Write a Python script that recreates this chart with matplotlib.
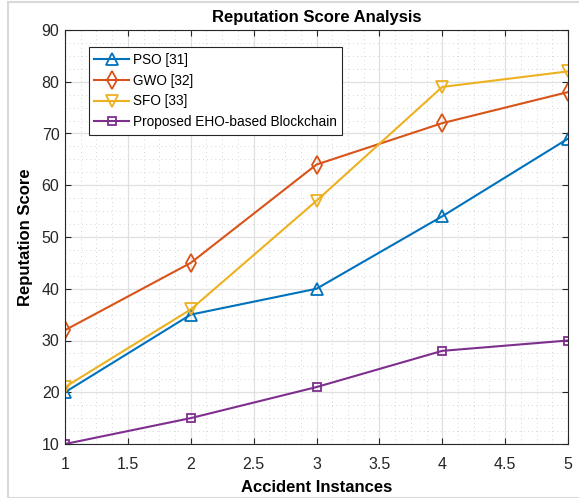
import matplotlib.pyplot as plt
from matplotlib.ticker import MultipleLocator
from matplotlib.patches import Rectangle

plt.rcParams['font.family'] = ['Liberation Sans', 'DejaVu Sans']

x = [1, 2, 3, 4, 5]
pso = [20, 35, 40, 54, 69]
gwo = [32, 45, 64, 72, 78]
sfo = [21, 36, 57, 79, 82]
eho = [10, 15, 21, 28, 30]
labels = ['PSO [31]', 'GWO [32]', 'SFO [33]', 'Proposed EHO-based Blockchain']

fig = plt.figure(figsize=(5.79, 4.98), dpi=100)
ax = fig.add_axes([65/579, 54/498, 503/579, 414/498])

ax.plot(x, pso, '-^', color='#0072BD', lw=1.5, ms=8, mfc='none', mew=1.3, label=labels[0])
ax.plot(x, gwo, '-d', color='#D95319', lw=1.5, ms=9, mfc='none', mew=1.3, label=labels[1])
ax.plot(x, sfo, '-v', color='#EDB120', lw=1.5, ms=8, mfc='none', mew=1.3, label=labels[2])
ax.plot(x, eho, '-s', color='#7E2F8E', lw=1.5, ms=6, mfc='none', mew=1.3, label=labels[3])

ax.set_xlim(1, 5)
ax.set_ylim(10, 90)
ax.xaxis.set_major_locator(MultipleLocator(0.5))
ax.xaxis.set_minor_locator(MultipleLocator(0.125))
ax.yaxis.set_major_locator(MultipleLocator(10))
ax.yaxis.set_minor_locator(MultipleLocator(2.5))
ax.xaxis.set_major_formatter(plt.FuncFormatter(lambda v, p: '%g' % v))
ax.grid(True, which='major', color='#e0e0e0', lw=0.9)
ax.grid(True, which='minor', color='#c8c8c8', lw=0.6, ls=(0, (1, 4)))
ax.set_axisbelow(True)
ax.tick_params(which='both', direction='in', top=True, right=True, labelsize=11.5, colors='#262626')
ax.tick_params(which='minor', length=0)
ax.tick_params(axis='x', which='major', length=4, pad=9)
ax.tick_params(axis='y', which='major', length=4, pad=4)
for s in ax.spines.values():
    s.set_color('#262626')
    s.set_linewidth(0.8)

ax.set_title('Reputation Score Analysis', fontsize=12, fontweight='bold', pad=6)
ax.set_xlabel('Accident Instances', fontsize=12, fontweight='bold', labelpad=6)
ax.set_ylabel('Reputation Score', fontsize=12, fontweight='bold', labelpad=6)

leg = ax.legend(loc='upper left', bbox_to_anchor=(0.047, 0.958), fontsize=9.8, fancybox=False,
                framealpha=1, edgecolor='#262626', handlelength=2.6, borderpad=0.4,
                labelspacing=0.5, handletextpad=0.25, borderaxespad=0)
leg.get_frame().set_linewidth(0.8)

fig.patches.append(Rectangle((8/579, 0), 1, 496/498, transform=fig.transFigure,
                             fill=False, edgecolor='#d9d9d9', lw=1.5))

fig.savefig('out.png', dpi=100)
